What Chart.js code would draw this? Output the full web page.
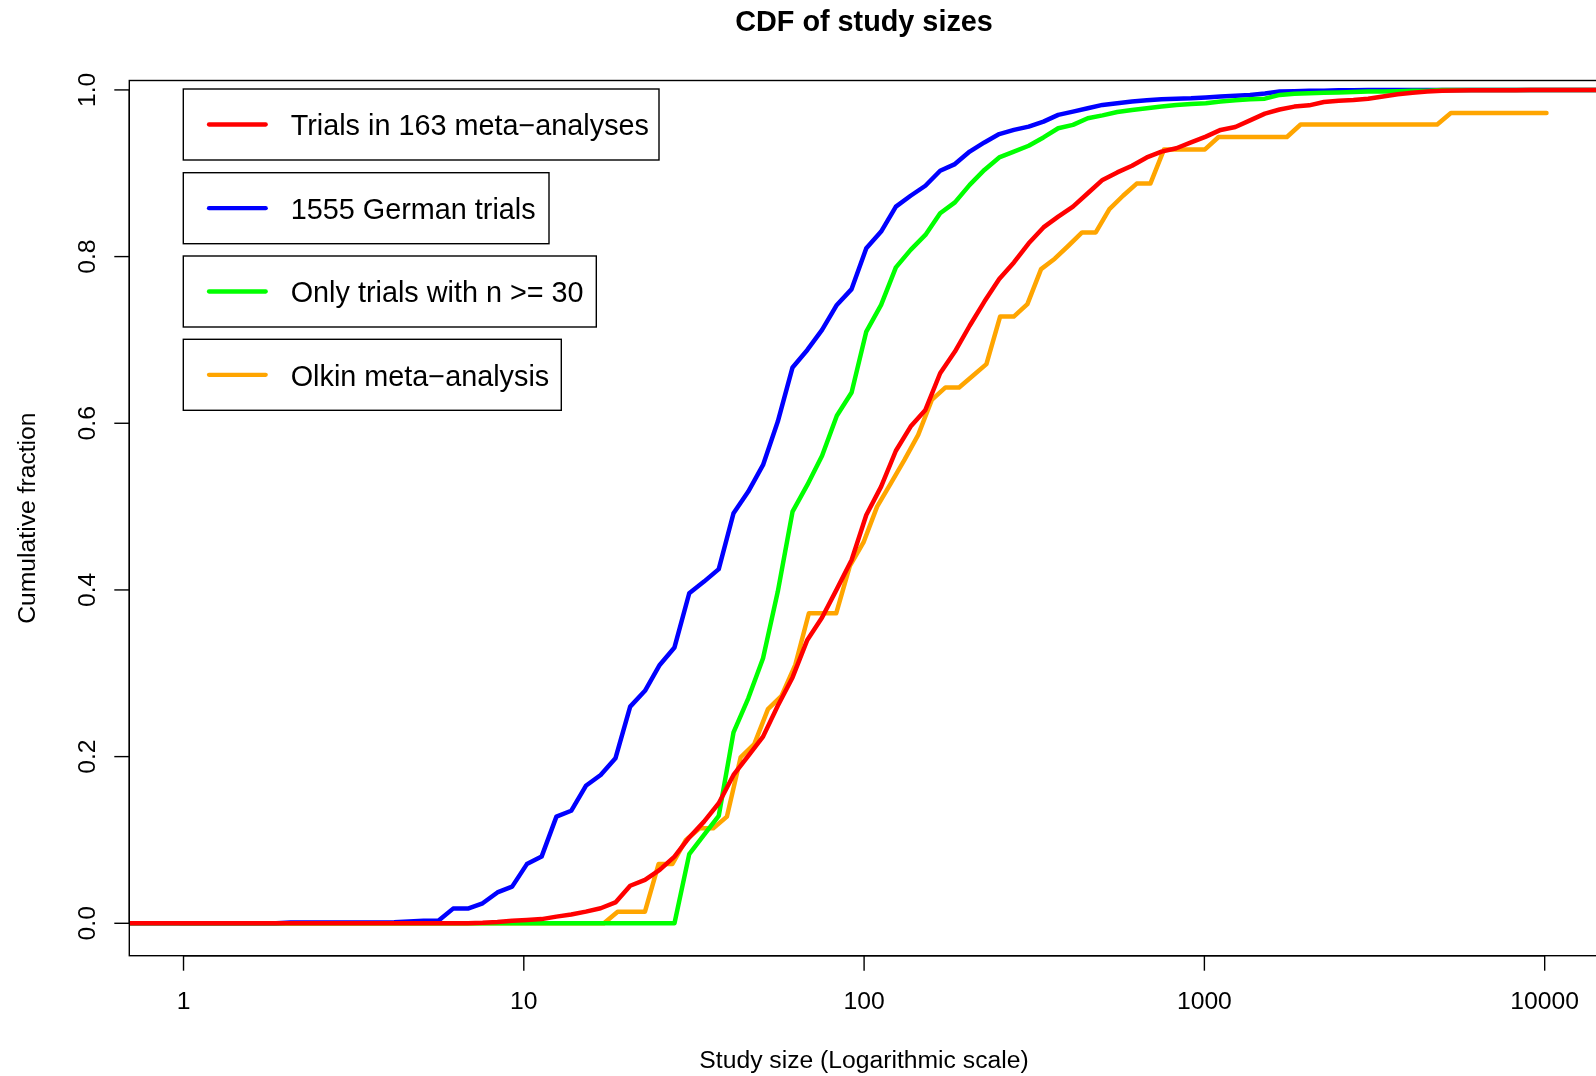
<!DOCTYPE html>
<html><head><meta charset="utf-8">
<script src="https://cdn.jsdelivr.net/npm/chart.js@4"></script>
<style>html,body{margin:0;padding:0;overflow:hidden;background:#fff;width:1596px;height:1076px}canvas{display:block}</style>
</head><body>
<canvas id="c" width="1600" height="1076"></canvas>
<script>
// Shared evaluation grid of study sizes (log-spaced), used by three series
const gridSizes = [0.6884,0.7610,0.8409,0.9292,
1.027,1.134,1.254,1.385,1.531,1.692,1.870,2.066,2.283,2.522,
2.788,3.081,3.404,3.762,4.157,4.594,5.076,5.609,6.198,6.849,
7.568,8.363,9.241,10.21,11.28,12.47,13.78,15.22,16.82,18.59,
20.54,22.70,25.08,27.72,30.63,33.85,37.40,41.33,45.67,50.47,
55.77,61.62,68.10,75.25,83.15,91.89,101.5,112.2,124.0,137.0,
151.4,167.3,184.9,204.3,225.7,249.5,275.6,304.6,336.6,371.9,
411.0,454.2,501.9,554.6,612.8,677.2,748.3,826.9,913.7,1010,
1116,1233,1362,1506,1664,1838,2032,2245,2481,2741,
3029,3347,3699,4087,4516,4991,5515,6094,6734,7442,
8223,9087,10041,11096,12261,13549,14972];

const trials163 = [0,0,0,0,
0,0,0,0,0,0,0,0,0,0,
0,0,0,0,0,0,0,0,0,0,
0.0005,0.0015,0.003,0.004,0.005,0.008,0.0105,0.014,0.018,0.025,
0.045,0.052,0.064,0.080,0.103,0.122,0.144,0.178,0.201,0.224,
0.261,0.295,0.340,0.367,0.401,0.436,0.490,0.524,0.567,0.596,
0.616,0.660,0.686,0.717,0.746,0.773,0.793,0.816,0.835,0.848,
0.860,0.876,0.892,0.901,0.909,0.919,0.926,0.930,0.937,0.944,
0.952,0.9555,0.9635,0.9716,0.9765,0.980,0.9815,0.9855,0.987,0.988,
0.9895,0.992,0.9947,0.9967,0.998,0.999,0.9993,0.9995,0.9995,0.9997,
0.9997,0.9998,0.9998,1,1,1,1];

const german1555 = [0,0,0,0,
0,0,0,0,0,0,0,0.0008,0.0008,0.0008,
0.0008,0.0008,0.001,0.001,0.0012,0.002,0.003,0.003,0.0176,0.0176,
0.024,0.037,0.044,0.071,0.080,0.128,0.135,0.165,0.178,0.198,
0.260,0.279,0.310,0.331,0.396,0.410,0.425,0.492,0.518,0.550,
0.602,0.667,0.688,0.712,0.742,0.761,0.810,0.830,0.860,0.873,
0.885,0.903,0.911,0.926,0.937,0.947,0.952,0.956,0.962,0.970,
0.974,0.978,0.982,0.984,0.986,0.9875,0.9887,0.9895,0.990,0.991,
0.992,0.993,0.994,0.9956,0.998,0.9985,0.999,0.999,0.9995,0.9995,
1,1,1,1,1,1,1,1,1,1,
1,1,1,1,1,1,1];

const trialsN30 = [0,0,0,0,
0,0,0,0,0,0,0,0,0,0,
0,0,0,0,0,0,0,0,0,0,
0,0,0,0,0,0,0,0,0,0,
0,0,0,0,0.083,0.106,0.129,0.229,0.270,0.318,
0.398,0.494,0.526,0.561,0.609,0.637,0.710,0.742,0.787,0.808,
0.826,0.852,0.865,0.886,0.904,0.919,0.926,0.933,0.943,0.954,
0.958,0.966,0.9695,0.9735,0.976,0.978,0.980,0.982,0.983,0.984,
0.986,0.9875,0.9887,0.9895,0.994,0.9955,0.996,0.9965,0.997,0.9975,
0.998,0.998,0.9985,0.999,0.999,1,1,1,1,1,
1,1,1,1,1,1,1];

// Olkin meta-analysis: its own grid vertices
const olkinSizes = [0.9799,17.20,18.87,22.70,24.89,27.31,29.95,32.86,36.04,39.53,
43.36,47.56,52.18,57.23,62.78,68.82,82.79,90.82,99.59,109.2,
119.8,131.4,144.2,158.1,173.5,190.2,208.7,228.8,251.0,275.3,
301.9,331.2,363.3,398.5,437.1,479.5,525.9,576.8,632.6,693.9,
761.0,1004,1101,1748,1918,4833,5301,10123];
const olkinFraction = [0,0,0.0139,0.0139,0.071,0.071,0.100,0.114,0.114,0.128,
0.199,0.215,0.257,0.273,0.31,0.372,0.372,0.429,0.457,0.500,
0.528,0.556,0.586,0.628,0.643,0.643,0.657,0.671,0.728,0.728,
0.743,0.785,0.7975,0.813,0.829,0.829,0.857,0.873,0.8876,0.8876,
0.9286,0.9286,0.9435,0.9435,0.9585,0.9585,0.9723,0.9723];

const xTickValues = [1,10,100,1000,10000];
const xTickLabels = ["1","10","100","1000","10000"];
const yTickValues = [0,0.2,0.4,0.6,0.8,1.0];
const yTickLabels = ["0.0","0.2","0.4","0.6","0.8","1.0"];
const seriesNames = ["Trials in 163 meta\u2212analyses","1555 German trials","Only trials with n >= 30","Olkin meta\u2212analysis"];
const seriesColors = ["#FF0000","#0000FF","#00FF00","#FFA500"];
const chartTitle = "CDF of study sizes";
const xTitle = "Study size (Logarithmic scale)";
const yTitle = "Cumulative fraction";

const FONT = "'Liberation Sans', Arial, Helvetica, sans-serif";
const pts = (xs, ys) => xs.map((x, i) => ({x: x, y: ys[i]}));
const lineStyle = c => ({borderColor: c, backgroundColor: c, borderWidth: 4.5, pointRadius: 0,
  tension: 0, fill: false, borderJoinStyle: 'round', borderCapStyle: 'round'});

const decor = {
  id: 'decor',
  afterDraw(chart) {
    const ctx = chart.ctx, a = chart.chartArea;
    const xs = chart.scales.x, ys = chart.scales.y;
    ctx.save();
    ctx.strokeStyle = '#000'; ctx.fillStyle = '#000';
    ctx.lineWidth = 1.4;
    ctx.strokeRect(a.left, a.top, a.right - a.left, a.bottom - a.top);
    const x0 = xs.getPixelForValue(xTickValues[0]);
    const x1 = xs.getPixelForValue(xTickValues[xTickValues.length-1]);
    ctx.beginPath(); ctx.moveTo(x0, a.bottom); ctx.lineTo(x1, a.bottom); ctx.stroke();
    ctx.font = '24.7px ' + FONT; ctx.textAlign = 'center'; ctx.textBaseline = 'alphabetic';
    xTickValues.forEach((v, i) => {
      const px = xs.getPixelForValue(v);
      ctx.beginPath(); ctx.moveTo(px, a.bottom); ctx.lineTo(px, a.bottom + 15); ctx.stroke();
      ctx.fillText(xTickLabels[i], px, 1009);
    });
    const y0 = ys.getPixelForValue(yTickValues[0]);
    const y1 = ys.getPixelForValue(yTickValues[yTickValues.length-1]);
    ctx.beginPath(); ctx.moveTo(a.left, y0); ctx.lineTo(a.left, y1); ctx.stroke();
    yTickValues.forEach((v, i) => {
      const py = ys.getPixelForValue(v);
      ctx.beginPath(); ctx.moveTo(a.left, py); ctx.lineTo(a.left - 15, py); ctx.stroke();
      ctx.save(); ctx.translate(94.6, py); ctx.rotate(-Math.PI/2);
      ctx.fillText(yTickLabels[i], 0, 0); ctx.restore();
    });
    ctx.fillText(xTitle, 864, 1068.3);
    ctx.save(); ctx.translate(35.2, (a.top + a.bottom)/2); ctx.rotate(-Math.PI/2);
    ctx.fillText(yTitle, 0, 0); ctx.restore();
    ctx.font = 'bold 28.8px ' + FONT;
    ctx.fillText(chartTitle, 864, 31.2);
    const boxes = [[183.3, 89, 659, 160], [183.3, 172.7, 549, 243.7], [183.3, 256, 596.3, 327], [183.3, 339.3, 561.3, 410.3]];
    ctx.font = '28.8px ' + FONT; ctx.textAlign = 'left'; ctx.textBaseline = 'middle';
    boxes.forEach((b, i) => {
      ctx.fillStyle = '#fff';
      ctx.fillRect(b[0], b[1], b[2]-b[0], b[3]-b[1]);
      ctx.lineWidth = 1.4; ctx.strokeStyle = '#000';
      ctx.strokeRect(b[0], b[1], b[2]-b[0], b[3]-b[1]);
      const cy = (b[1] + b[3]) / 2;
      ctx.lineWidth = 4.3; ctx.lineCap = 'round'; ctx.strokeStyle = seriesColors[i];
      ctx.beginPath(); ctx.moveTo(209, cy); ctx.lineTo(265.7, cy); ctx.stroke();
      ctx.lineCap = 'butt';
      ctx.fillStyle = '#000';
      ctx.fillText(seriesNames[i], 290.7, cy + 3);
    });
    ctx.restore();
  }
};

new Chart(document.getElementById('c'), {
  type: 'line',
  data: {
    datasets: [
      Object.assign({label: seriesNames[0], data: pts(gridSizes, trials163)}, lineStyle(seriesColors[0])),
      Object.assign({label: seriesNames[2], data: pts(gridSizes, trialsN30)}, lineStyle(seriesColors[2])),
      Object.assign({label: seriesNames[1], data: pts(gridSizes, german1555)}, lineStyle(seriesColors[1])),
      Object.assign({label: seriesNames[3], data: pts(olkinSizes, olkinFraction)}, lineStyle(seriesColors[3]))
    ]
  },
  options: {
    responsive: false, animation: false, devicePixelRatio: 1, events: [],
    layout: {padding: {left: 129.3, top: 80.5, right: 2, bottom: 120.3}},
    plugins: {legend: {display: false}, title: {display: false}, tooltip: {enabled: false}},
    scales: {
      x: {type: 'logarithmic', display: false, min: 0.6929, max: 14345},
      y: {type: 'linear', display: false, min: -0.0389, max: 1.0113}
    }
  },
  plugins: [decor]
});
</script>
</body></html>
